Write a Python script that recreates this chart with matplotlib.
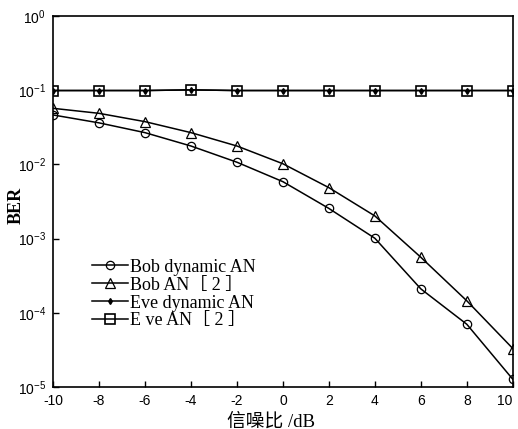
import matplotlib
matplotlib.use('Agg')
import matplotlib.pyplot as plt
import numpy as np

plt.rcParams['mathtext.fontset'] = 'custom'
plt.rcParams['mathtext.rm'] = 'Liberation Sans'
plt.rcParams['axes.unicode_minus'] = False

# data
snr = [-10, -8, -6, -4, -2, 0, 2, 4, 6, 8, 10]
bob_dyn = [0.0464, 0.0363, 0.0268, 0.0177, 0.0107, 0.00585, 0.00255, 0.00101, 0.00021, 7.0e-5, 1.27e-5]
bob_an = [0.057, 0.0488, 0.0377, 0.0268, 0.0177, 0.0102, 0.00486, 0.00202, 0.00056, 0.000145, 3.3e-5]
eve_dyn = [0.099, 0.099, 0.099, 0.101, 0.099, 0.099, 0.099, 0.099, 0.099, 0.099, 0.099]
eve_an = [0.099, 0.099, 0.099, 0.101, 0.099, 0.099, 0.099, 0.099, 0.099, 0.099, 0.099]
labels = ['Bob dynamic AN', 'Bob AN［ 2 ］', 'Eve dynamic AN', 'E ve AN［ 2 ］']

fig = plt.figure(figsize=(5.18, 4.29), dpi=100)
ax = fig.add_axes([0.1023, 0.0979, 0.8877, 0.8648])

lw = 1.1
ax.plot(snr, bob_dyn, '-o', color='k', lw=lw, ms=6, mfc='none', mew=0.9, label=labels[0])
ax.plot(snr, bob_an, '-^', color='k', lw=lw, ms=7, mfc='none', mew=0.9, label=labels[1])
ax.plot(snr, eve_dyn, '-d', color='k', lw=lw, ms=3, label=labels[2])
ax.plot(snr, eve_an, '-s', color='k', lw=lw, ms=7, mfc='none', mew=1.2, label=labels[3])

ax.set_yscale('log')
ax.set_ylim(1e-5, 1)
ax.set_xlim(-10, 10)
ax.set_xticks(snr)
ax.set_yticks([1e-5, 1e-4, 1e-3, 1e-2, 1e-1, 1])
ax.minorticks_off()
ax.tick_params(direction='in', length=4, width=1, labelsize=10, pad=5)
for t in ax.get_xticklabels() + ax.get_yticklabels():
    t.set_family('Liberation Sans')
ax.get_xticklabels()[-1].set_horizontalalignment('right')
for s in ax.spines.values():
    s.set_linewidth(1.2)

ax.set_ylabel('BER', family='Liberation Serif', fontsize=13, fontweight='bold')
ax.yaxis.set_label_coords(-0.062, 0.49)
ax.set_xlabel('信噪比 /dB', family=['Liberation Serif', 'Noto Sans CJK SC'], fontsize=13.5)
ax.xaxis.set_label_coords(0.475, -0.07)

ax.legend(loc='upper left', bbox_to_anchor=(0.065, 0.37), frameon=False,
          prop={'family': ['Liberation Serif', 'Noto Sans CJK SC'], 'size': 13},
          handlelength=2.0, handletextpad=0.1, labelspacing=0.05, borderpad=0)

plt.savefig('out.png', dpi=100)
